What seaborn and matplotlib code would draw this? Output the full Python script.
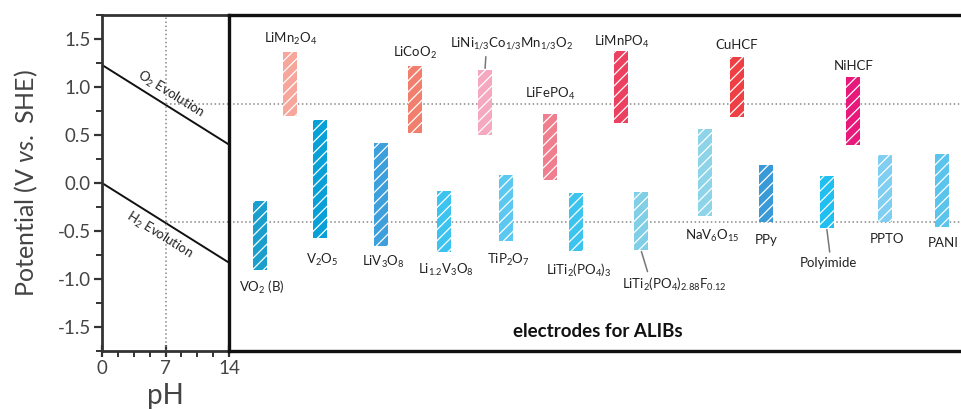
import matplotlib
matplotlib.use("Agg")
import matplotlib.pyplot as plt
import numpy as np
import pandas as pd
import seaborn as sns
from matplotlib.ticker import MultipleLocator

# --- data -------------------------------------------------------------------
ph = [0, 14]
o2_evolution = [1.23, 0.40]
h2_evolution = [0.00, -0.83]
o2_ph7 = 0.82
h2_ph7 = -0.41

names = [
    r"VO$_\mathregular{2}$ (B)", r"$\mathregular{LiMn_2O_4}$", r"$\mathregular{V_2O_5}$",
    r"$\mathregular{LiV_3O_8}$", r"$\mathregular{LiCoO_2}$", r"$\mathregular{Li_{1.2}V_3O_8}$",
    r"$\mathregular{LiNi_{1/3}Co_{1/3}Mn_{1/3}O_2}$", r"$\mathregular{TiP_2O_7}$",
    r"$\mathregular{LiFePO_4}$", r"$\mathregular{LiTi_2(PO_4)_3}$", r"$\mathregular{LiMnPO_4}$",
    r"$\mathregular{LiTi_2(PO_4)_{2.88}F_{0.12}}$", r"$\mathregular{NaV_6O_{15}}$",
    "CuHCF", "PPy", "Polyimide", "NiHCF", "PPTO", "PANI",
]
xpos = [3.07, 6.1, 9.1, 15.2, 18.57, 21.5, 25.6, 27.7, 32.1, 34.7, 39.2, 41.2,
        47.57, 50.8, 53.7, 59.77, 62.4, 65.6, 71.3]
v_low = [-0.91, 0.70, -0.57, -0.66, 0.52, -0.72, 0.50, -0.60, 0.03, -0.71, 0.63,
         -0.70, -0.34, 0.69, -0.41, -0.47, 0.40, -0.41, -0.46]
v_high = [-0.19, 1.36, 0.66, 0.42, 1.22, -0.08, 1.18, 0.08, 0.72, -0.10, 1.37,
          -0.09, 0.56, 1.31, 0.19, 0.07, 1.10, 0.29, 0.30]
colors = ["#1a9fcc", "#f6a69a", "#08a0d6", "#3d9fdb", "#f17f6e", "#3cc3ef",
          "#f5a9c1", "#5bc8f0", "#ef7e8e", "#3cc4ee", "#ec4060", "#80cfe6",
          "#8dd4e8", "#ee3f45", "#3a9ad7", "#1fbff0", "#e8197a", "#80cef1", "#5ac4ec"]

# label placement (x, y); leader lines: (bar end, relative anchor on the label)
label_x = [3.3, 6.2, 9.3, 15.4, 18.6, 21.7, 28.3, 27.9, 32.1, 35.0, 39.3, 44.5,
           48.3, 50.8, 53.75, 59.9, 62.5, 65.8, 71.4]
label_y = [-1.09, 1.50, -0.80, -0.82, 1.35, -0.91, 1.45, -0.80, 0.93, -0.91, 1.47,
           -1.06, -0.55, 1.44, -0.59, -0.83, 1.22, -0.58, -0.63]
leader = {6: ("top", (0.29, 0.0)), 11: ("bottom", (0.26, 1.0)),
          15: ("bottom", (0.54, 1.0))}

# --- style ------------------------------------------------------------------
sns.set_theme(style="ticks")
plt.rcParams["font.family"] = ["Lato", "DejaVu Sans"]
plt.rcParams["mathtext.fontset"] = "custom"
plt.rcParams["mathtext.rm"] = "Lato"
plt.rcParams["mathtext.it"] = "Lato:italic"
plt.rcParams["mathtext.bf"] = "Lato:bold"
plt.rcParams["hatch.linewidth"] = 0.9

fig = plt.figure(figsize=(9.61, 4.09), dpi=100)
axL = fig.add_axes([102 / 961, 58 / 409, 127 / 961, 336 / 409])
axR = fig.add_axes([229 / 961, 58 / 409, 732 / 961, 336 / 409])

# left panel: water stability window vs pH
evo = pd.DataFrame({"pH": ph * 2, "V": o2_evolution + h2_evolution,
                    "line": ["O2", "O2", "H2", "H2"]})
sns.lineplot(data=evo, x="pH", y="V", units="line", estimator=None, color="#111111",
             lw=1.4, ax=axL, legend=False)
axL.axvline(7, ls=":", color="#888888", lw=1.1)
axL.axhline(o2_ph7, xmin=0.5, ls=":", color="#888888", lw=1.1)
axL.axhline(h2_ph7, xmin=0.5, ls=":", color="#888888", lw=1.1)
axL.text(7.6, 0.92, r"O$_\mathregular{2}$ Evolution", rotation=-32, ha="center",
         va="center", fontsize=9.5, color="#222222", rotation_mode="anchor")
axL.text(6.3, -0.54, r"H$_\mathregular{2}$ Evolution", rotation=-32, ha="center",
         va="center", fontsize=9.5, color="#222222", rotation_mode="anchor")
axL.set_xlim(0, 14)
axL.set_ylim(-1.75, 1.75)
axL.set_xticks([0, 7, 14])
axL.xaxis.set_minor_locator(MultipleLocator(1.75))
axL.yaxis.set_major_locator(MultipleLocator(0.5))
axL.yaxis.set_minor_locator(MultipleLocator(0.25))
axL.set_yticklabels([f"{t:.1f}" for t in axL.get_yticks()])
axL.tick_params(which="major", length=6, width=1.6, color="#333333", labelsize=13.5,
                labelcolor="#444444", pad=2)
axL.tick_params(which="minor", length=4, width=1.4, color="#333333")
axL.tick_params(axis="x", which="major", direction="inout", length=9)
axL.set_xlabel("pH", fontsize=20, color="#444444", labelpad=4)
axL.set_ylabel(r"Potential (V $\mathit{vs.}$ SHE)", fontsize=18, color="#444444",
               labelpad=13)
for s in ["left", "top", "bottom"]:
    axL.spines[s].set_color("#333333")
    axL.spines[s].set_linewidth(2)
axL.spines["right"].set_visible(False)

# right panel: electrode potential windows
heights = np.array(v_high) - np.array(v_low)
axR.bar(xpos, heights, bottom=v_low, width=1.4, color=colors, edgecolor="white",
        hatch="///", linewidth=0, zorder=3)
axR.axhline(o2_ph7, ls=":", color="#888888", lw=1.1, zorder=1)
axR.axhline(h2_ph7, ls=":", color="#888888", lw=1.1, zorder=1)
for i, name in enumerate(names):
    if i not in leader:
        axR.text(label_x[i], label_y[i], name, ha="center", va="center",
                 fontsize=9.5, color="#222222")
    else:
        side, rel = leader[i]
        end = v_high[i] if side == "top" else v_low[i]
        axR.annotate(name, xy=(xpos[i], end), xytext=(label_x[i], label_y[i]),
                     ha="center", va="center", fontsize=9.5, color="#222222",
                     arrowprops=dict(arrowstyle="-", color="#777777", lw=1.1,
                                     relpos=rel, shrinkA=1, shrinkB=1))
axR.text(36.9, -1.55, "electrodes for ALIBs", ha="center", va="center",
         fontsize=13.5, fontweight="bold", color="#111111")
axR.set_xlim(0, 73.2)
axR.set_ylim(-1.75, 1.75)
axR.set_xticks([])
axR.set_yticks([])
axR.spines["right"].set_visible(False)
for s in ["left", "top", "bottom"]:
    axR.spines[s].set_color("#111111")
    axR.spines[s].set_linewidth(2.4)

fig.savefig("out.png", dpi=100)
